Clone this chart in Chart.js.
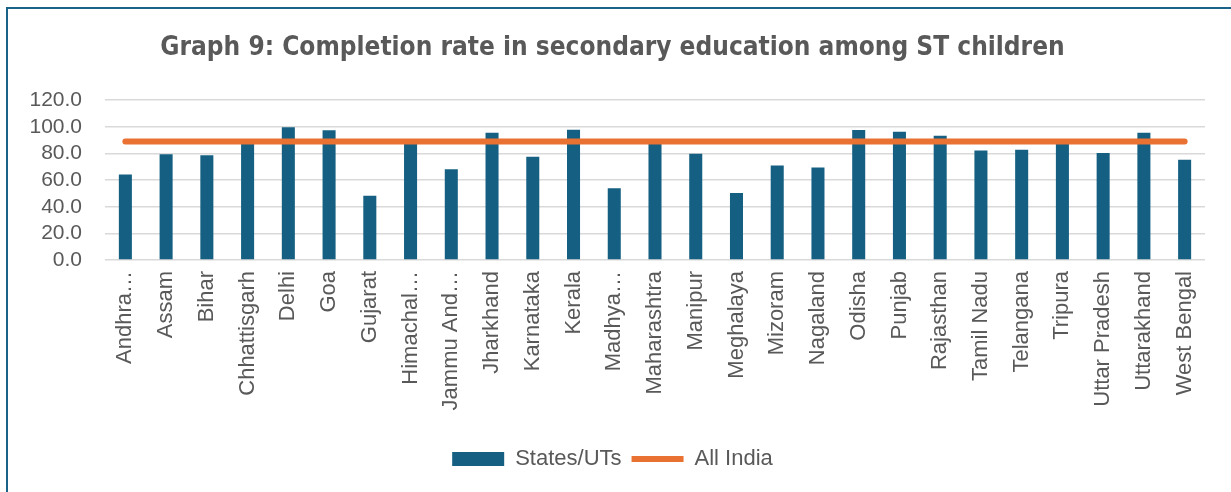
<!DOCTYPE html>
<html>
<head>
<meta charset="utf-8">
<script src="https://cdn.jsdelivr.net/npm/chart.js@4"></script>
<style>
  html, body { margin: 0; padding: 0; background: #fff; }
  #wrap { position: relative; width: 1231px; height: 492px; overflow: hidden; }
  #frame { position: absolute; left: 6px; top: 7px; right: -10px; bottom: -10px;
           border-left: 2px solid #1B6289; border-top: 2px solid #1B6289; }
  canvas { position: absolute; left: 0; top: 0; }
</style>
</head>
<body>
<div id="wrap">
  <div id="frame"></div>
  <canvas id="chart" width="1231" height="492"></canvas>
</div>
<script>
// --- DATA ---
const categories = [
  'Andhra\u2026', 'Assam', 'Bihar', 'Chhattisgarh', 'Delhi', 'Goa', 'Gujarat',
  'Himachal\u2026', 'Jammu And\u2026', 'Jharkhand', 'Karnataka', 'Kerala', 'Madhya\u2026',
  'Maharashtra', 'Manipur', 'Meghalaya', 'Mizoram', 'Nagaland', 'Odisha', 'Punjab',
  'Rajasthan', 'Tamil Nadu', 'Telangana', 'Tripura', 'Uttar Pradesh', 'Uttarakhand',
  'West Bengal'
];
const statesValues = [
  64.2, 79.5, 78.7, 88.4, 99.6, 97.4, 48.3,
  88.7, 68.2, 95.6, 77.5, 97.9, 53.8,
  88.2, 79.7, 50.3, 70.9, 69.4, 97.6, 96.4,
  93.3, 82.3, 82.8, 88.0, 80.3, 95.6,
  75.2
];
const allIndiaValues = [
  89, 89, 89, 89, 89, 89, 89, 89, 89, 89, 89, 89, 89, 89,
  89, 89, 89, 89, 89, 89, 89, 89, 89, 89, 89, 89, 89
];
const yTicks = { min: 0, max: 120, step: 20 };

// --- STYLE ---
const textGrey = '#595959';
const barBlue = '#156082';
const lineOrange = '#E97132';
const baseFont = "'Liberation Sans', Arial, sans-serif";

const ctx = document.getElementById('chart').getContext('2d');
new Chart(ctx, {
  data: {
    labels: categories,
    datasets: [{
      type: 'bar',
      label: 'States/UTs',
      data: statesValues,
      backgroundColor: barBlue,
      borderWidth: 0,
      barPercentage: 0.32,
      categoryPercentage: 1.0,
      pointStyle: 'rect',
      order: 1
    }, {
      type: 'line',
      label: 'All India',
      data: allIndiaValues,
      borderColor: lineOrange,
      backgroundColor: lineOrange,
      borderWidth: 6,
      borderCapStyle: 'round',
      pointRadius: 0,
      pointHoverRadius: 0,
      pointStyle: 'line',
      order: 0
    }]
  },
  options: {
    responsive: false,
    animation: false,
    layout: { padding: { left: 20, right: 26, top: 33, bottom: 12 } },
    plugins: {
      title: {
        display: true,
        text: 'Graph 9: Completion rate in secondary education among ST children',
        color: textGrey,
        font: { family: "'DejaVu Sans Condensed', 'Liberation Sans', sans-serif", size: 26, weight: 'bold' },
        padding: { top: 0, bottom: 36 }
      },
      legend: {
        position: 'bottom',
        labels: {
          color: textGrey,
          font: { family: baseFont, size: 22 },
          usePointStyle: true,
          pointStyleWidth: 52,
          boxWidth: 52,
          boxHeight: 14,
          padding: 10,
          sort: (a, b) => a.datasetIndex - b.datasetIndex
        }
      },
      tooltip: { enabled: false }
    },
    scales: {
      x: {
        grid: { display: false },
        border: { display: false },
        ticks: {
          color: textGrey,
          font: { family: baseFont, size: 22 },
          minRotation: 90,
          maxRotation: 90,
          autoSkip: false,
          padding: 3
        },
        afterFit: (scale) => { scale.height = 178; }
      },
      y: {
        min: yTicks.min,
        max: yTicks.max,
        grid: { color: '#D9D9D9', lineWidth: 1.5, drawTicks: false },
        border: { display: false },
        ticks: {
          stepSize: yTicks.step,
          autoSkip: false,
          color: textGrey,
          font: { family: baseFont, size: 21 },
          padding: 23,
          callback: (v) => Number(v).toFixed(1)
        },
        afterFit: (scale) => { scale.width = 85; }
      }
    }
  }
});
</script>
</body>
</html>
